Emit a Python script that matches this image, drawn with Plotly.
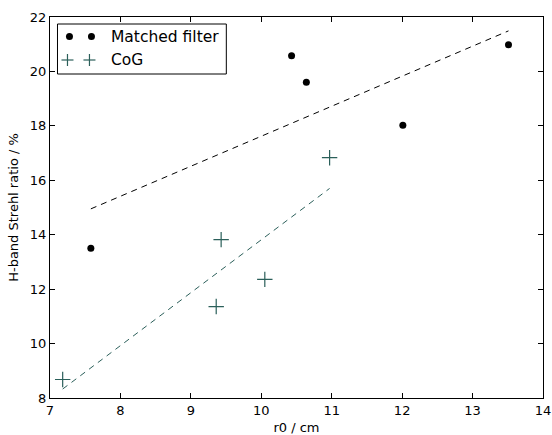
import plotly.graph_objects as go

# Data
mf_x = [7.58, 10.43, 10.64, 12.01, 13.51]
mf_y = [13.5, 20.58, 19.6, 18.02, 20.98]
cog_x = [7.18, 9.36, 9.43, 10.05, 10.97]
cog_y = [8.68, 11.36, 13.82, 12.36, 16.83]
mf_fit_x = [7.58, 13.51]
mf_fit_y = [14.95, 21.49]
cog_fit_x = [7.18, 10.97]
cog_fit_y = [8.33, 15.7]

teal = "#2b5f5a"
FONT = "DejaVu Sans"

fig = go.Figure()
fig.add_trace(go.Scatter(x=mf_fit_x, y=mf_fit_y, mode="lines",
                         line=dict(color="black", width=1, dash="6px,5px"),
                         showlegend=False, hoverinfo="skip"))
fig.add_trace(go.Scatter(x=cog_fit_x, y=cog_fit_y, mode="lines",
                         line=dict(color=teal, width=1, dash="6px,5px"),
                         showlegend=False, hoverinfo="skip"))
fig.add_trace(go.Scatter(x=mf_x, y=mf_y, mode="markers", name="Matched filter",
                         marker=dict(symbol="circle", size=7, color="black"),
                         showlegend=False))
fig.add_trace(go.Scatter(x=cog_x, y=cog_y, mode="markers", name="CoG",
                         marker=dict(symbol="cross-thin", size=11,
                                     line=dict(color=teal, width=1.2), color=teal),
                         showlegend=False))

# Target plot-area pixel box in the 552x435 window
L, R, T, B = 49.5, 543, 17, 398
W, H = R - L, B - T
def px(xp):
    return (xp - L) / W
def py(yp):
    return (B - yp) / H

shapes = [dict(type="rect", xref="paper", yref="paper",
               x0=px(57), x1=px(226), y0=py(74), y1=py(24),
               line=dict(color="black", width=1), fillcolor="white", layer="above")]
row1, row2 = 36.5, 60
for mx in (69, 91):
    shapes.append(dict(type="circle", xref="paper", yref="paper",
                       xsizemode="pixel", ysizemode="pixel",
                       xanchor=px(mx), yanchor=py(row1),
                       x0=-3.5, x1=3.5, y0=-3.5, y1=3.5,
                       fillcolor="black", line=dict(color="black", width=0), layer="above"))
    shapes.append(dict(type="line", xref="paper", yref="paper",
                       xsizemode="pixel", ysizemode="pixel",
                       xanchor=px(mx - 2), yanchor=py(row2),
                       x0=-6, x1=6, y0=0, y1=0,
                       line=dict(color=teal, width=1.2), layer="above"))
    shapes.append(dict(type="line", xref="paper", yref="paper",
                       xsizemode="pixel", ysizemode="pixel",
                       xanchor=px(mx - 2), yanchor=py(row2),
                       x0=0, x1=0, y0=-6, y1=6,
                       line=dict(color=teal, width=1.2), layer="above"))

annotations = [
    dict(text="Matched filter", xref="paper", yref="paper", x=px(109), y=py(row1),
         xanchor="left", yanchor="middle", showarrow=False,
         font=dict(family=FONT, size=15.5, color="black")),
    dict(text="CoG", xref="paper", yref="paper", x=px(109), y=py(row2),
         xanchor="left", yanchor="middle", showarrow=False,
         font=dict(family=FONT, size=15.5, color="black")),
]

fig.update_layout(
    width=552, height=435,
    margin=dict(l=L, r=552 - R, t=T, b=435 - B),
    paper_bgcolor="white", plot_bgcolor="white",
    font=dict(family=FONT, size=13, color="black"),
    shapes=shapes, annotations=annotations,
    showlegend=False,
)
axis_common = dict(showline=True, linecolor="black", linewidth=1, mirror="ticks",
                   ticks="inside", ticklen=5, tickcolor="black", tickwidth=1,
                   showgrid=False, zeroline=False, automargin=False,
                   ticklabeloverflow="allow",
                   tickfont=dict(family=FONT, size=13, color="black"))
fig.update_xaxes(range=[7, 14], dtick=1, tick0=7,
                 title=dict(text="r0 / cm", font=dict(family=FONT, size=13), standoff=6),
                 **axis_common)
fig.update_yaxes(range=[8, 22], dtick=2, tick0=8,
                 title=dict(text="H-band Strehl ratio / %", font=dict(family=FONT, size=13), standoff=8),
                 **axis_common)

fig.write_html("out.html",
               config={"displayModeBar": False},
               post_script="document.body.style.margin='0';document.body.style.overflow='hidden';")
